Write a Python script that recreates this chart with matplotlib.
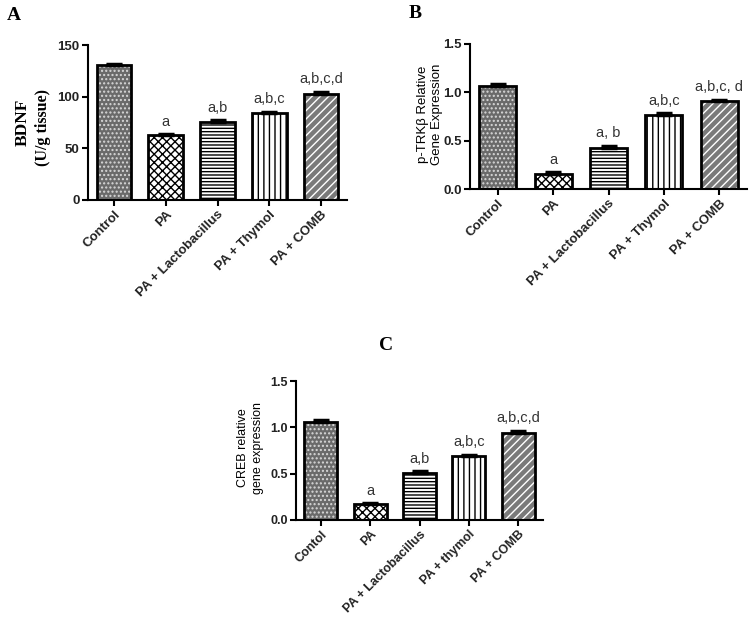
import matplotlib
matplotlib.use("Agg")
import matplotlib.pyplot as plt
import numpy as np

plt.rcParams['font.family'] = ['Liberation Sans', 'DejaVu Sans']

groups_a = ["Control", "PA", "PA + Lactobacillus", "PA + Thymol", "PA + COMB"]
groups_b = ["Control", "PA", "PA + Lactobacillus", "PA + Thymol", "PA + COMB"]
groups_c = ["Contol", "PA", "PA + Lactobacillus", "PA + thymol", "PA + COMB"]

bdnf = [131, 63, 75.5, 84.5, 103]
bdnf_err = [1.0, 0.8, 1.5, 0.8, 1.5]
trkb = [1.07, 0.16, 0.42, 0.77, 0.91]
trkb_err = [0.015, 0.015, 0.03, 0.015, 0.015]
creb = [1.06, 0.17, 0.51, 0.69, 0.94]
creb_err = [0.015, 0.01, 0.015, 0.015, 0.02]

letters_a = ["", "a", "a,b", "a,b,c", "a,b,c,d"]
letters_b = ["", "a", "a, b", "a,b,c", "a,b,c, d"]
letters_c = ["", "a", "a,b", "a,b,c", "a,b,c,d"]

styles = [
    dict(face="#6a6a6a", hatch="....", hcolor="#d8d8d8"),
    dict(face="white", hatch="xxxx", hcolor="black"),
    dict(face="white", hatch="-----", hcolor="black"),
    dict(face="white", hatch="|||", hcolor="black"),
    dict(face="#7a7a7a", hatch="////", hcolor="white"),
]

fig = plt.figure(figsize=(7.52, 6.17), dpi=100)


def panel(rect, cats, vals, errs, letters, ymax, yticks, ytl, fs=9.5):
    ax = fig.add_axes(rect)
    x = np.arange(len(cats))
    w = 0.67
    for i in range(len(cats)):
        st = styles[i]
        ax.bar(x[i], vals[i], w, color=st["face"], hatch=st["hatch"],
               edgecolor=st["hcolor"], linewidth=0, zorder=2)
        ax.bar(x[i], vals[i], w, fill=False, edgecolor="black",
               linewidth=2, zorder=3)
    ax.errorbar(x, vals, yerr=[np.zeros(len(vals)), errs], fmt="none",
                ecolor="black", elinewidth=1.5, capsize=6, capthick=2.5,
                zorder=4)
    for i, t in enumerate(letters):
        if t:
            ax.annotate(t, (x[i], vals[i] + errs[i]), xytext=(0, 4),
                        textcoords="offset points", ha="center", va="bottom",
                        fontsize=10.5, color="#333333")
    ax.set_xlim(-0.5, len(cats) - 0.5)
    ax.set_ylim(0, ymax)
    ax.set_yticks(yticks)
    ax.set_yticklabels(ytl, fontsize=fs, fontweight="bold", color="#222")
    ax.set_xticks(x)
    ax.set_xticklabels(cats, rotation=45, ha="right", rotation_mode="anchor",
                       fontsize=fs, fontweight="bold", color="#222")
    for s in ["top", "right"]:
        ax.spines[s].set_visible(False)
    for s in ["left", "bottom"]:
        ax.spines[s].set_linewidth(1.5)
    ax.tick_params(axis="both", direction="out", length=4, width=1.5, pad=2)
    return ax


axA = panel([88 / 752, 1 - 200 / 617, 259 / 752, 155 / 617], groups_a, bdnf,
            bdnf_err, letters_a, 150, [0, 50, 100, 150], ["0", "50", "100", "150"])
axB = panel([470 / 752, 1 - 189 / 617, 277 / 752, 145 / 617], groups_b, trkb,
            trkb_err, letters_b, 1.5, [0, 0.5, 1.0, 1.5], ["0.0", "0.5", "1.0", "1.5"])
axC = panel([296 / 752, 1 - 520 / 617, 247 / 752, 139 / 617], groups_c, creb,
            creb_err, letters_c, 1.5, [0, 0.5, 1.0, 1.5], ["0.0", "0.5", "1.0", "1.5"],
            fs=9)

serif = ["Liberation Serif", "DejaVu Serif"]
fig.text(23 / 752, 1 - 122 / 617, "BDNF", rotation=90, ha="center", va="center",
         fontsize=12.5, fontweight="bold", family=serif)
fig.text(43 / 752, 1 - 128 / 617, "(U/g tissue)", rotation=90, ha="center",
         va="center", fontsize=11.5, fontweight="bold", family=serif)
fig.text(423 / 752, 1 - 114 / 617, "p-TRKβ Relative", rotation=90, ha="center",
         va="center", fontsize=9.5)
fig.text(437 / 752, 1 - 114 / 617, "Gene Expression", rotation=90, ha="center",
         va="center", fontsize=9.5)
fig.text(243 / 752, 1 - 448 / 617, "CREB relative", rotation=90, ha="center",
         va="center", fontsize=9)
fig.text(258 / 752, 1 - 448 / 617, "gene expression", rotation=90, ha="center",
         va="center", fontsize=9)

fig.text(14 / 752, 1 - 15 / 617, "A", ha="center", va="center", fontsize=14,
         fontweight="bold", family=serif)
fig.text(415 / 752, 1 - 14 / 617, "B", ha="center", va="center", fontsize=14,
         fontweight="bold", family=serif)
fig.text(386 / 752, 1 - 346 / 617, "C", ha="center", va="center", fontsize=14,
         fontweight="bold", family=serif)

fig.savefig("out.png", dpi=100)
